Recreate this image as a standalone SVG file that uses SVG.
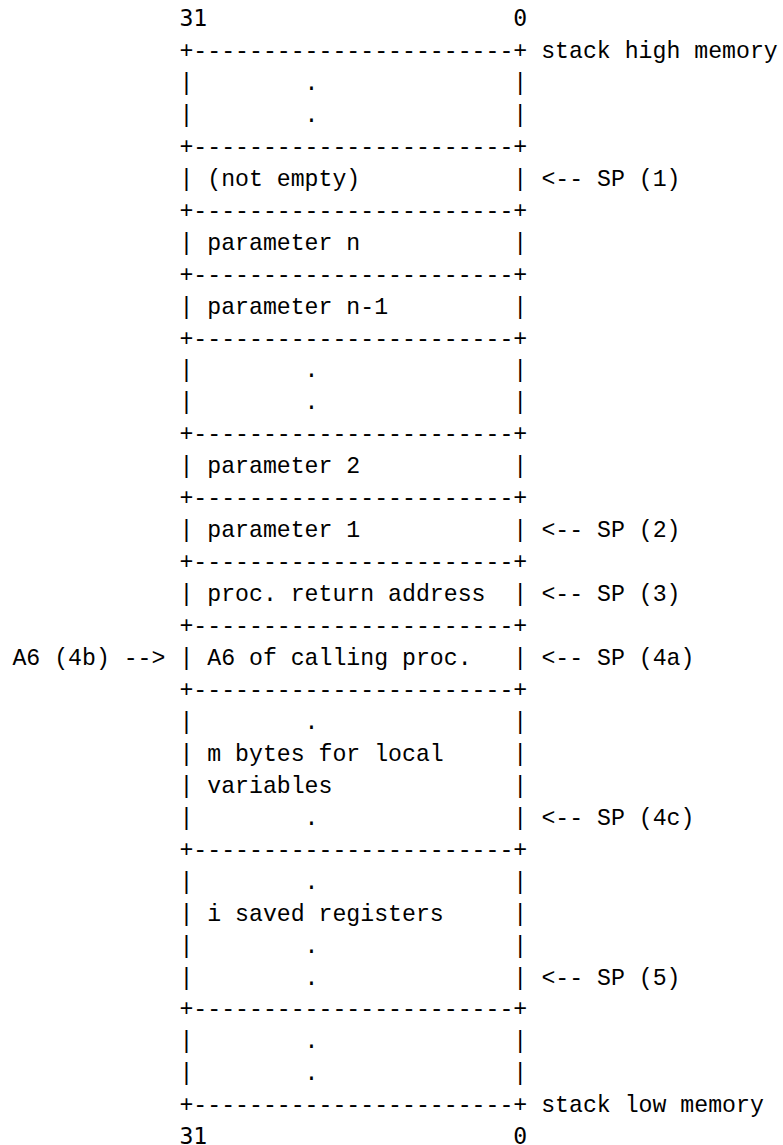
<svg xmlns="http://www.w3.org/2000/svg" width="783" height="1145" viewBox="0 0 783 1145">
<style>
text{font-family:"Liberation Mono","DejaVu Sans Mono",monospace;font-size:23.2px;fill:#000;white-space:pre}
.num{font-family:"DejaVu Sans Mono",monospace;font-size:23.12px}
</style>
<rect width="783" height="1145" fill="#fff"/>
<g id="bit-labels-top"><text class="num" x="179.4" y="26" xml:space="preserve">31                      0</text></g>
<g id="stack-high">
<text x="179.4" y="57.95" xml:space="preserve">+-----------------------+ stack high memory</text>
<text x="179.4" y="89.9" xml:space="preserve">|        .              |</text>
<text x="179.4" y="121.85" xml:space="preserve">|        .              |</text>
<text x="179.4" y="153.8" xml:space="preserve">+-----------------------+</text>
</g>
<g id="not-empty"><text x="179.4" y="185.75" xml:space="preserve">| (not empty)           |</text>
<text x="179.4" y="217.7" xml:space="preserve">+-----------------------+</text></g>
<g id="param-n"><text x="179.4" y="249.65" xml:space="preserve">| parameter n           |</text>
<text x="179.4" y="281.6" xml:space="preserve">+-----------------------+</text></g>
<g id="param-n-1"><text x="179.4" y="313.55" xml:space="preserve">| parameter n-1         |</text>
<text x="179.4" y="345.5" xml:space="preserve">+-----------------------+</text></g>
<g id="param-dots"><text x="179.4" y="377.45" xml:space="preserve">|        .              |</text>
<text x="179.4" y="409.4" xml:space="preserve">|        .              |</text>
<text x="179.4" y="441.35" xml:space="preserve">+-----------------------+</text></g>
<g id="param-2"><text x="179.4" y="473.3" xml:space="preserve">| parameter 2           |</text>
<text x="179.4" y="505.25" xml:space="preserve">+-----------------------+</text></g>
<g id="param-1"><text x="179.4" y="537.2" xml:space="preserve">| parameter 1           |</text>
<text x="179.4" y="569.15" xml:space="preserve">+-----------------------+</text></g>
<g id="return-address"><text x="179.4" y="601.1" xml:space="preserve">| proc. return address  |</text>
<text x="179.4" y="633.05" xml:space="preserve">+-----------------------+</text></g>
<g id="a6-calling"><text x="179.4" y="665" xml:space="preserve">| A6 of calling proc.   |</text>
<text x="179.4" y="696.95" xml:space="preserve">+-----------------------+</text></g>
<g id="local-vars"><text x="179.4" y="728.9" xml:space="preserve">|        .              |</text>
<text x="179.4" y="760.85" xml:space="preserve">| m bytes for local     |</text>
<text x="179.4" y="792.8" xml:space="preserve">| variables             |</text>
<text x="179.4" y="824.75" xml:space="preserve">|        .              |</text>
<text x="179.4" y="856.7" xml:space="preserve">+-----------------------+</text></g>
<g id="saved-regs"><text x="179.4" y="888.65" xml:space="preserve">|        .              |</text>
<text x="179.4" y="920.6" xml:space="preserve">| i saved registers     |</text>
<text x="179.4" y="952.55" xml:space="preserve">|        .              |</text>
<text x="179.4" y="984.5" xml:space="preserve">|        .              |</text>
<text x="179.4" y="1016.45" xml:space="preserve">+-----------------------+</text></g>
<g id="stack-low"><text x="179.4" y="1048.4" xml:space="preserve">|        .              |</text>
<text x="179.4" y="1080.35" xml:space="preserve">|        .              |</text>
<text x="179.4" y="1112.3" xml:space="preserve">+-----------------------+ stack low memory</text></g>
<g id="bit-labels-bottom"><text class="num" x="179.4" y="1143.5" xml:space="preserve">31                      0</text></g>
<g id="connectors">
<text x="541.4" y="185.75" xml:space="preserve">&lt;-- SP (1)</text>
<text x="541.4" y="537.2" xml:space="preserve">&lt;-- SP (2)</text>
<text x="541.4" y="601.1" xml:space="preserve">&lt;-- SP (3)</text>
<text x="12.4" y="665" xml:space="preserve">A6 (4b) --&gt;</text>
<text x="541.4" y="665" xml:space="preserve">&lt;-- SP (4a)</text>
<text x="541.4" y="824.75" xml:space="preserve">&lt;-- SP (4c)</text>
<text x="541.4" y="984.5" xml:space="preserve">&lt;-- SP (5)</text>
</g>
</svg>
